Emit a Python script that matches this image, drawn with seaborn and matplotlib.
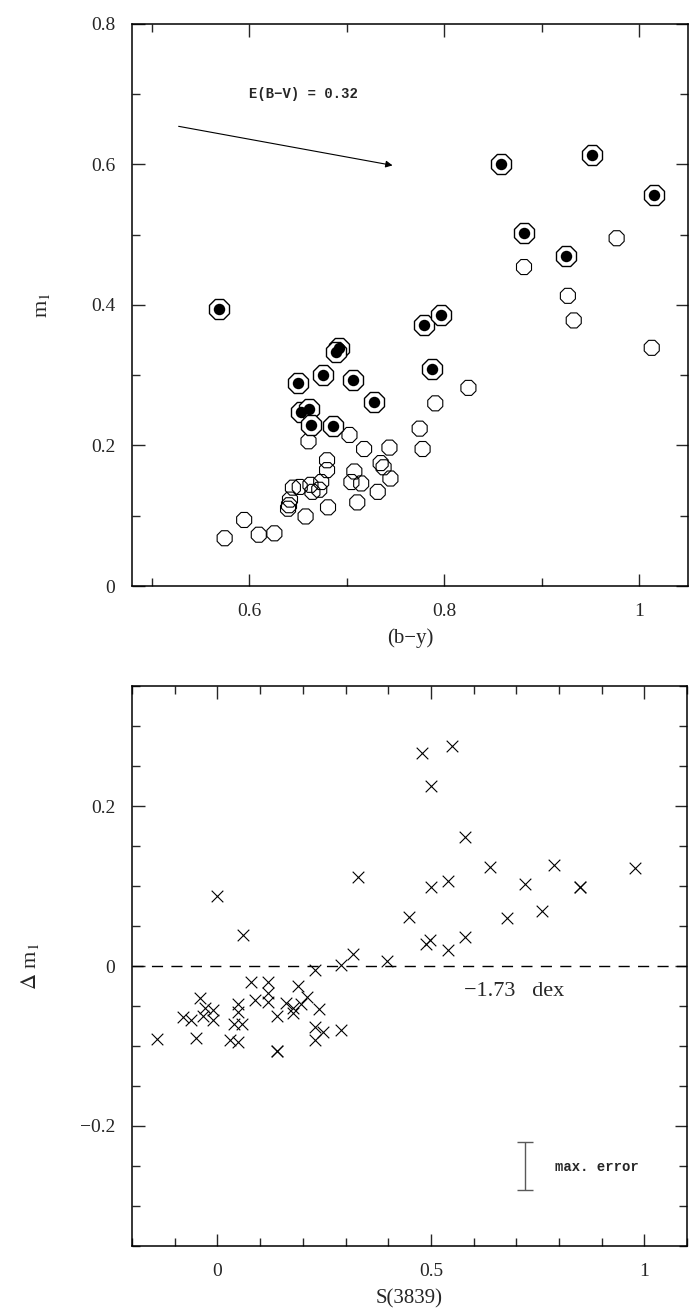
import matplotlib
matplotlib.use('Agg')
import matplotlib.pyplot as plt
import seaborn as sns
import pandas as pd
from matplotlib.ticker import MultipleLocator, FuncFormatter

# Top panel: (b-y) vs m1, open octagons = all stars, ringed dots = selected stars
open_by = [0.882, 0.927, 0.933, 1.013, 0.977, 0.825, 0.791, 0.775, 0.778, 0.703,
           0.661, 0.718, 0.744, 0.680, 0.680, 0.735, 0.738, 0.745, 0.708, 0.705,
           0.715, 0.732, 0.711, 0.681, 0.674, 0.672, 0.665, 0.663, 0.652, 0.645,
           0.642, 0.641, 0.640, 0.658, 0.595, 0.575, 0.610, 0.626]
open_m1 = [0.454, 0.413, 0.378, 0.339, 0.495, 0.282, 0.260, 0.224, 0.195, 0.215,
           0.206, 0.195, 0.197, 0.179, 0.165, 0.175, 0.169, 0.153, 0.163, 0.148,
           0.146, 0.134, 0.119, 0.112, 0.148, 0.137, 0.134, 0.144, 0.141, 0.140,
           0.123, 0.115, 0.110, 0.099, 0.094, 0.068, 0.073, 0.075]

filled_by = [0.569, 0.779, 0.692, 0.689, 0.676, 0.650, 0.707, 0.728, 0.653, 0.662,
             0.664, 0.686, 0.797, 0.788, 0.858, 0.952, 1.015, 0.882, 0.925]
filled_m1 = [0.394, 0.371, 0.339, 0.333, 0.301, 0.289, 0.293, 0.262, 0.248, 0.252,
             0.229, 0.228, 0.386, 0.309, 0.600, 0.614, 0.557, 0.503, 0.470]

# Bottom panel: S(3839) vs delta m1
s3839 = [0.480, 0.549, 0.500, 0.580, 0.639, 0.789, 0.979, 0.500, 0.539, 0.720,
         0.849, 0.849, 0.449, 0.679, 0.760, 0.488, 0.499, 0.541, 0.580, 0.329,
         0.000, 0.059, 0.318, 0.398, 0.289, 0.229,
         -0.141, -0.051, -0.081, -0.061, -0.041, -0.029, -0.011, -0.033, -0.011,
         0.030, 0.049, 0.049, 0.049, 0.038, 0.058, 0.079, 0.089, 0.119, 0.119,
         0.119, 0.139, 0.139, 0.139, 0.160, 0.178, 0.178, 0.189, 0.209, 0.239,
         0.229, 0.248, 0.229, 0.289, 0.195]
delta_m1 = [0.266, 0.275, 0.225, 0.161, 0.124, 0.126, 0.122, 0.099, 0.106, 0.102,
            0.099, 0.099, 0.061, 0.060, 0.069, 0.027, 0.032, 0.020, 0.036, 0.111,
            0.088, 0.039, 0.015, 0.006, 0.001, -0.005,
            -0.091, -0.090, -0.064, -0.067, -0.040, -0.052, -0.055, -0.063, -0.067,
            -0.093, -0.095, -0.048, -0.058, -0.072, -0.073, -0.020, -0.043, -0.020, -0.034,
            -0.045, -0.063, -0.106, -0.106, -0.046, -0.052, -0.059, -0.025, -0.039, -0.054,
            -0.076, -0.083, -0.092, -0.080, -0.048]

# reddening vector and error bar
redd_start = (0.525, 0.655)
redd_end = (0.750, 0.598)
err_x, err_y, err_half = 0.72, -0.25, 0.03

df_open = pd.DataFrame({'by': open_by, 'm1': open_m1})
df_fill = pd.DataFrame({'by': filled_by, 'm1': filled_m1})
df_s = pd.DataFrame({'s': s3839, 'dm': delta_m1})

sns.set_style('ticks')
plt.rcParams['font.family'] = ['Liberation Serif', 'DejaVu Serif']
plt.rcParams['mathtext.fontset'] = 'stix'
plt.rcParams['axes.linewidth'] = 1.1


def fmt(v, pos):
    s = f'{round(v, 3):g}'
    if s == '-0':
        s = '0'
    return s.replace('-', '\u2212')


fig = plt.figure(figsize=(7, 13.16), dpi=100)
ax1 = fig.add_axes([0.1886, 0.5547, 0.794, 0.4271])
ax2 = fig.add_axes([0.1886, 0.0532, 0.793, 0.4255])

# top panel
sns.scatterplot(data=df_open, x='by', y='m1', marker='8', s=137, facecolor='none',
                edgecolor='black', linewidth=0.8, ax=ax1, zorder=2)
sns.scatterplot(data=df_fill, x='by', y='m1', marker='8', s=243, facecolor='white',
                edgecolor='black', linewidth=1.0, ax=ax1, zorder=3)
sns.scatterplot(data=df_fill, x='by', y='m1', marker='o', s=68, color='black',
                linewidth=0, ax=ax1, zorder=4)
ax1.annotate('', xy=redd_end, xytext=redd_start,
             arrowprops=dict(arrowstyle='-|>', lw=0.8, color='black', mutation_scale=10))
ax1.text(0.60, 0.70, 'E(B\u2212V) = 0.32', fontsize=10, fontweight='bold',
         family=['Liberation Mono', 'DejaVu Sans Mono'], ha='left', va='center')
ax1.set_xlim(0.48, 1.05)
ax1.set_ylim(0, 0.8)
ax1.xaxis.set_major_locator(MultipleLocator(0.2))
ax1.xaxis.set_minor_locator(MultipleLocator(0.1))
ax1.yaxis.set_major_locator(MultipleLocator(0.2))
ax1.yaxis.set_minor_locator(MultipleLocator(0.1))
ax1.set_xlabel('(b\u2212y)', fontsize=15, labelpad=6)
ax1.set_ylabel('m$_1$', fontsize=16, labelpad=28)

# bottom panel
ax2.axhline(0, color='black', lw=1.0, linestyle=(0, (8, 6)), zorder=1)
sns.scatterplot(data=df_s, x='s', y='dm', marker='x', s=70, color='black',
                linewidth=0.8, ax=ax2, zorder=3)
ax2.errorbar(err_x, err_y, yerr=err_half, color='0.35', lw=1.0, capsize=6,
             capthick=1.0)
ax2.text(0.79, -0.251, 'max. error', fontsize=10, fontweight='bold',
         family=['Liberation Mono', 'DejaVu Sans Mono'], ha='left', va='center')
ax2.text(0.578, -0.032, '\u22121.73   dex', fontsize=16, ha='left', va='center')
ax2.set_xlim(-0.2, 1.1)
ax2.set_ylim(-0.35, 0.35)
ax2.xaxis.set_major_locator(MultipleLocator(0.5))
ax2.xaxis.set_minor_locator(MultipleLocator(0.1))
ax2.yaxis.set_major_locator(MultipleLocator(0.2))
ax2.yaxis.set_minor_locator(MultipleLocator(0.05))
ax2.set_xlabel('S(3839)', fontsize=15, labelpad=7)
ax2.set_ylabel('$\\Delta$ m$_1$', fontsize=16, labelpad=28)

for ax in (ax1, ax2):
    ax.xaxis.set_major_formatter(FuncFormatter(fmt))
    ax.yaxis.set_major_formatter(FuncFormatter(fmt))
    ax.tick_params(which='both', direction='in', top=True, right=True,
                   labelsize=14, width=1.0)
    ax.tick_params(which='major', length=9, pad=12)
    ax.tick_params(which='minor', length=6)
    for sp in ax.spines.values():
        sp.set_color('black')

fig.savefig('out.png', dpi=100)
